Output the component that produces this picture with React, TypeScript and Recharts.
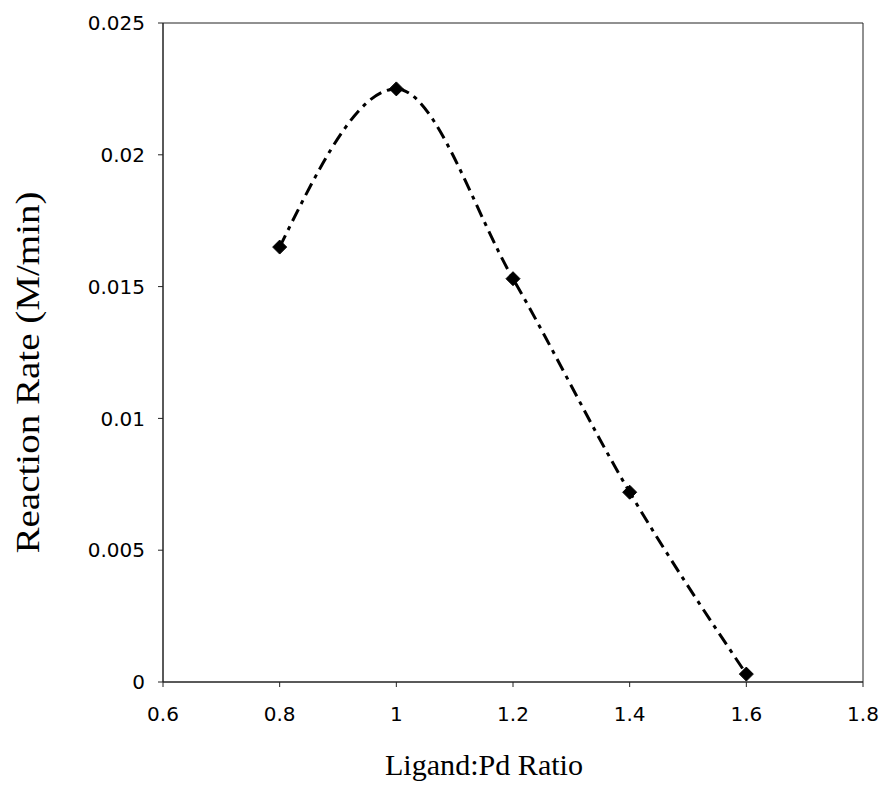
import { LineChart, Line, XAxis, YAxis, ReferenceArea } from 'recharts';

const ratios = [0.8, 1.0, 1.2, 1.4, 1.6];
const rates = [0.0165, 0.0225, 0.0153, 0.0072, 0.0003];
const xTicks = [0.6, 0.8, 1, 1.2, 1.4, 1.6, 1.8];
const yTicks = [0, 0.005, 0.01, 0.015, 0.02, 0.025];

const data = ratios.map((r, i) => ({ ratio: r, rate: rates[i] }));

const serif = '"Liberation Serif", "Times New Roman", serif';

const Diamond = (props: any) => {
  const { cx, cy } = props;
  if (cx == null || cy == null) return null;
  const s = 7;
  return (
    <path
      d={`M${cx},${cy - s} L${cx + s},${cy} L${cx},${cy + s} L${cx - s},${cy} Z`}
      fill="#000"
      stroke="#000"
    />
  );
};

// axis titles are a bit stretched in the original, so fix their length
const XTitle = (props: any) => {
  const { viewBox } = props;
  const x = viewBox.x + viewBox.width / 2 - 29;
  return (
    <text x={x} y={775} textAnchor="middle" fontSize={30} fontFamily={serif} fill="#000"
      textLength={198} lengthAdjust="spacingAndGlyphs">
      Ligand:Pd Ratio
    </text>
  );
};

const YTitle = (props: any) => {
  const { viewBox } = props;
  const cy = viewBox.y + viewBox.height / 2 + 20;
  return (
    <text x={0} y={0} transform={`translate(39, ${cy}) rotate(-90)`} textAnchor="middle" fontSize={34}
      fontFamily={serif} fill="#000" textLength={362} lengthAdjust="spacingAndGlyphs">
      Reaction Rate (M/min)
    </text>
  );
};

const tickStyle = { fill: '#000', fontSize: 20, fontFamily: '"DejaVu Sans", Verdana, sans-serif' };

export default function App() {
  return (
    <div style={{ position: 'absolute', left: 0, top: 0, background: '#fff' }}>
      <LineChart width={884} height={807} data={data} margin={{ top: 23, right: 21, left: 0, bottom: 35 }}>
        <XAxis
          dataKey="ratio"
          type="number"
          domain={[0.6, 1.8]}
          ticks={xTicks}
          allowDataOverflow
          stroke="#222"
          tickSize={5}
          tickMargin={20}
          height={90}
          tick={tickStyle}
          label={<XTitle />}
        />
        <YAxis
          type="number"
          domain={[0, 0.025]}
          ticks={yTicks}
          stroke="#222"
          tickSize={5}
          tickMargin={13}
          width={163}
          tick={tickStyle}
          label={<YTitle />}
        />
        <ReferenceArea x1={0.6} x2={1.8} y1={0} y2={0.025} fill="none" stroke="#222" strokeWidth={1} />
        <Line
          type="monotone"
          dataKey="rate"
          stroke="#000"
          strokeWidth={3}
          strokeDasharray="13 6 4 6"
          dot={<Diamond />}
          activeDot={false}
          isAnimationActive={false}
        />
      </LineChart>
    </div>
  );
}
